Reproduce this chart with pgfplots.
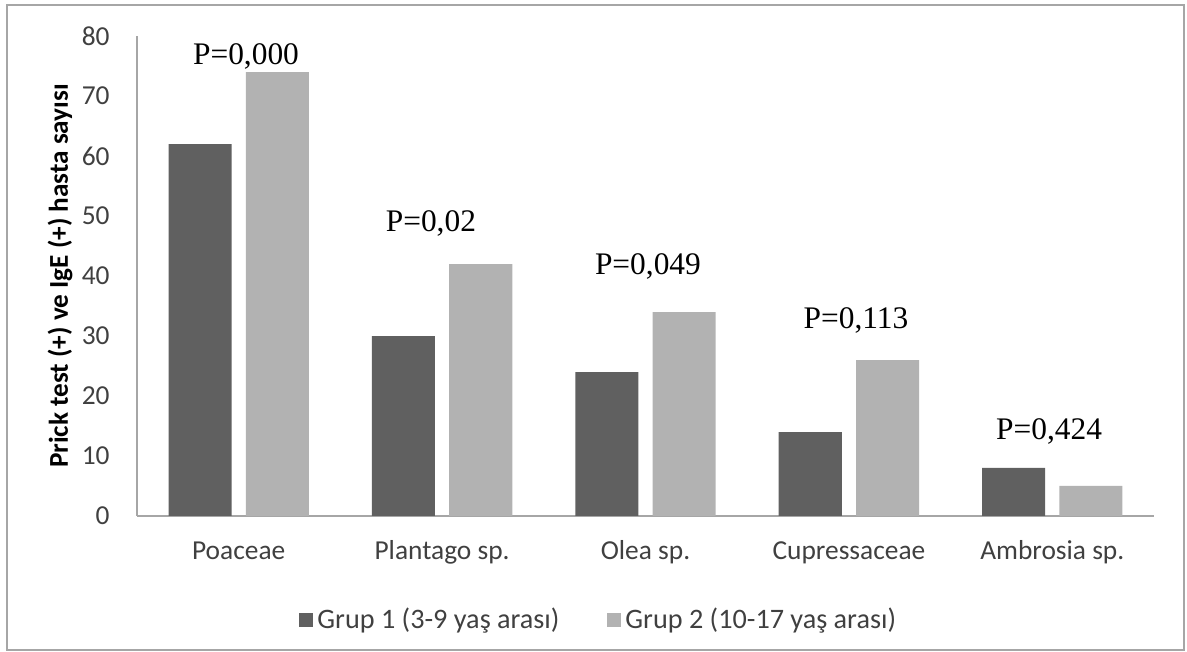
\documentclass[border=0pt]{standalone}
\usepackage{pgfplots}
\pgfplotsset{compat=1.18}
\usepackage{fontspec}
\setmainfont{Carlito}
\newfontfamily\timesf{Liberation Serif}
\definecolor{darkbar}{HTML}{606060}
\definecolor{lightbar}{HTML}{B2B2B2}
\definecolor{axisgray}{HTML}{A6A6A6}
\definecolor{txt}{HTML}{404040}
\begin{document}
\begin{tikzpicture}[x=0.5pt,y=0.5pt]
\useasboundingbox (0,0) rectangle (1187,652);
\draw[axisgray, line width=1pt] (7,1.5) rectangle (1183.5,647);
\begin{axis}[
  at={(68.5pt,68pt)}, anchor=south west,
  scale only axis, width=508.5pt, height=240pt,
  xmin=-0.5, xmax=4.5, ymin=0, ymax=80,
  ybar, bar width=0.31,
  axis x line*=bottom, axis y line*=left,
  axis line style={axisgray, line width=0.75pt, -},
  xtick={0,1,2,3,4},
  xticklabels={Poaceae, Plantago sp., Olea sp., Cupressaceae, Ambrosia sp.},
  ytick={0,10,...,80},
  major tick length=0pt,
  tick label style={font=\fontsize{13.7}{16}\selectfont, text=txt},
  xticklabel style={inner sep=0pt, anchor=base, yshift=-22pt},
  yticklabel style={inner sep=0pt, anchor=east, xshift=-13.5pt},
  /pgf/number format/assume math mode=true,
  legend style={at={(0.455,-0.217)}, anchor=center, draw=none, fill=none,
    legend columns=2, font=\fontsize{14.1}{16}\selectfont, text=txt,
    /tikz/every even column/.append style={column sep=22pt}},
  legend image code/.code={\fill[#1] (0pt,-3.5pt) rectangle (7pt,3.5pt);},
]
\addplot[fill=darkbar, draw=none, bar shift=-0.19] coordinates {(0,62) (1,30) (2,24) (3,14) (4,8)};
\addplot[fill=lightbar, draw=none, bar shift=0.19] coordinates {(0,74) (1,42) (2,34) (3,26) (4,5)};
\legend{Grup 1 (3-9 yaş arası), Grup 2 (10-17 yaş arası)}
\begin{scope}[every node/.style={font=\timesf\fontsize{15.7}{18}\selectfont, anchor=base, inner sep=0pt}]
\node at (axis cs:0.036,75.2) {P=0,000};
\node at (axis cs:0.945,47.5) {P=0,02};
\node at (axis cs:2.012,40.2) {P=0,049};
\node at (axis cs:3.035,31.2) {P=0,113};
\node at (axis cs:3.984,12.7) {P=0,424};
\end{scope}
\end{axis}
\node[rotate=90, font=\bfseries\fontsize{13.6}{15}\selectfont] at (60,376) {Prick test (+) ve IgE (+) hasta sayısı};
\end{tikzpicture}
\end{document}
